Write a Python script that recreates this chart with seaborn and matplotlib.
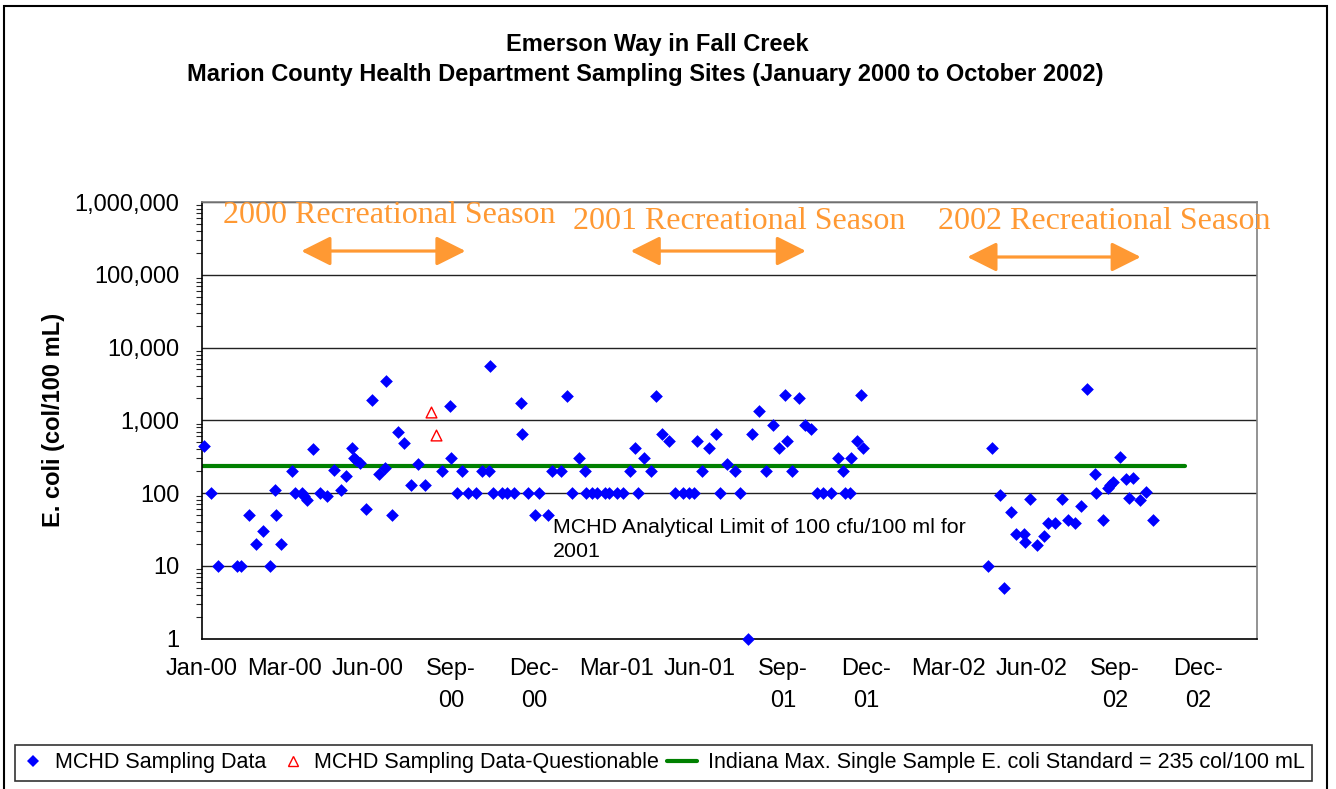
import numpy as np
import pandas as pd
import matplotlib
matplotlib.use("Agg")
import matplotlib.pyplot as plt
from matplotlib.lines import Line2D
from matplotlib.patches import Rectangle
from matplotlib.legend_handler import HandlerLine2D
import seaborn as sns

# ---------------- data (days after 1 Jan 2000, E. coli col/100 mL) ----------------
sample_day = [3, 10, 18, 38, 43, 51, 59, 66, 74, 79,
              81, 86, 98, 101, 109, 111, 114, 121, 128, 136,
              143, 151, 156, 163, 165, 167, 172, 178, 185, 192,
              199, 200, 206, 213, 219, 227, 234, 242, 261, 269,
              270, 277, 282, 289, 297, 304, 311, 312, 316, 325,
              331, 339, 346, 347, 354, 361, 366,
              375, 380, 389, 396, 401, 409, 415, 417, 423, 428,
              437, 441, 450, 457, 464, 470, 473, 479, 487, 493,
              499, 507, 513, 522, 528, 534, 537, 542, 550, 557,
              562, 569, 578, 584, 592, 597, 604, 612, 619, 626,
              632, 634, 640, 647, 654, 660, 667, 674, 682, 690,
              695, 697, 703, 704, 710, 715, 717,
              852, 857, 865, 870, 877, 883, 891, 892, 898, 905,
              913, 917, 925, 933, 939, 947, 953, 960, 968, 970,
              977, 982, 985, 988, 996, 1002, 1005, 1010, 1017, 1024,
              1031]
sample_value = [440, 100, 10, 10, 10, 50, 20, 30, 10, 110,
                50, 20, 200, 100, 100, 90, 80, 400, 100, 90,
                210, 110, 170, 420, 300, 280, 260, 60, 1900, 180,
                220, 3500, 50, 700, 490, 130, 250, 130, 200, 1550,
                300, 100, 200, 100, 100, 200, 200, 5500, 100, 100,
                100, 100, 1750, 640, 100, 50, 100,
                50, 200, 200, 2150, 100, 300, 200, 100, 100, 100,
                100, 100, 100, 100, 200, 420, 100, 300, 200, 2150,
                640, 520, 100, 100, 100, 100, 520, 200, 420, 640,
                100, 250, 200, 100, 1, 640, 1330, 200, 870, 420,
                2250, 520, 200, 2000, 870, 750, 100, 100, 100, 300,
                200, 100, 100, 300, 520, 2200, 420,
                10, 420, 95, 5, 54, 27, 27, 21, 82, 19,
                26, 39, 39, 82, 43, 39, 66, 2700, 180, 100,
                43, 118, 130, 141, 310, 154, 86, 162, 80, 102,
                43]

questionable_day = [249, 254]
questionable_value = [1300, 630]

standard_value = 235
standard_span_day = [0, 1066]

tick_day = [0, 90, 180, 270, 360, 450, 540, 630, 720, 810, 900, 990, 1080]
tick_label = ["Jan-00", "Mar-00", "Jun-00", "Sep-\n00", "Dec-\n00", "Mar-01",
              "Jun-01", "Sep-\n01", "Dec-\n01", "Mar-02", "Jun-02", "Sep-\n02", "Dec-\n02"]
y_ticks = [1, 10, 100, 1000, 10000, 100000, 1000000]
y_tick_label = ["1", "10", "100", "1,000", "10,000", "100,000", "1,000,000"]

season_label = ["2000 Recreational Season", "2001 Recreational Season", "2002 Recreational Season"]
season_start = [108, 465, 830]
season_end = [286, 655, 1018]

# ---------------- styling ----------------
sns.set_theme(style="white")
plt.rcParams["font.family"] = ["Liberation Sans", "DejaVu Sans"]
plt.rcParams["text.color"] = "black"
plt.rcParams["axes.labelcolor"] = "black"

W, H = 1336, 789
fig = plt.figure(figsize=(W / 100, H / 100), dpi=100)
fig.patch.set_facecolor("white")

left_px, right_px, top_px, bottom_px = 201.7, 1257, 202, 638.5
ax = fig.add_axes([left_px / W, 1 - bottom_px / H,
                   (right_px - left_px) / W, (bottom_px - top_px) / H])
ax.set_facecolor("white")

df = pd.DataFrame({"day": sample_day, "value": sample_value})
dq = pd.DataFrame({"day": questionable_day, "value": questionable_value})

sns.lineplot(x=standard_span_day, y=[standard_value] * 2, color="#008000",
             linewidth=3, ax=ax, zorder=2)
sns.scatterplot(data=df, x="day", y="value", marker="D", color="#0000FF", s=42,
                linewidth=0, ax=ax, zorder=4, clip_on=False, legend=False)
sns.scatterplot(data=dq, x="day", y="value", marker="^", color="red",
                facecolor="white", edgecolor="red", s=60, linewidth=1.0,
                ax=ax, zorder=4, clip_on=False, legend=False)

ax.set_yscale("log")
ax.set_ylim(1, 1e6)
ax.set_xlim(0, 1144)
ax.set_yticks(y_ticks)
ax.set_yticklabels(y_tick_label)
ax.set_xticks(tick_day)
ax.set_xticklabels(tick_label, linespacing=1.6)
ax.tick_params(axis="both", labelsize=17, colors="black", direction="out")
ax.tick_params(axis="x", length=5, width=1, pad=9)
ax.tick_params(axis="y", which="major", length=6, width=1, pad=10)
ax.tick_params(axis="y", which="minor", length=4, width=0.8, left=True)
ax.tick_params(axis="x", which="minor", bottom=False)
ax.set_xlabel("")
ax.set_ylabel("E. coli (col/100 mL)", fontsize=17, fontweight="bold", labelpad=7)

for yv in y_ticks[1:]:
    ax.axhline(yv, color="#222222", linewidth=1.0, zorder=1)

for side in ["left", "bottom"]:
    ax.spines[side].set_color("black")
    ax.spines[side].set_linewidth(1.2)
for side in ["top", "right"]:
    ax.spines[side].set_color("#808080")
    ax.spines[side].set_linewidth(1.2)
    ax.spines[side].set_visible(True)

orange = "#FF9933"
text_y = [0.952, 0.938, 0.938]
text_x = [23, 403, 798]
arrow_y = [0.8877, 0.8877, 0.874]
for lbl, tx, ty, s0, s1, ay in zip(season_label, text_x, text_y, season_start, season_end, arrow_y):
    ax.text(tx, ty, lbl, transform=ax.get_xaxis_transform(), color=orange,
            fontsize=23, family=["Liberation Serif", "DejaVu Serif"],
            ha="left", va="baseline", zorder=5)
    ax.annotate("", xy=(s1, ay), xytext=(s0, ay),
                xycoords=ax.get_xaxis_transform(), textcoords=ax.get_xaxis_transform(),
                arrowprops=dict(arrowstyle="<|-|>,head_length=1.0,head_width=0.5",
                                color=orange, lw=2.3, mutation_scale=18,
                                shrinkA=0, shrinkB=0))

ax.text(381, 0.276, "MCHD Analytical Limit of 100 cfu/100 ml for\n2001",
        transform=ax.get_xaxis_transform(), fontsize=15.4, ha="left", va="top",
        linespacing=1.3, color="black", zorder=5)

fig.text(657 / W, 1 - 44 / H, "Emerson Way in Fall Creek", fontsize=17,
         fontweight="bold", ha="center", va="center", color="black")
fig.text(645.5 / W, 1 - 75 / H,
         "Marion County Health Department Sampling Sites (January 2000 to October 2002)",
         fontsize=17, fontweight="bold", ha="center", va="center", color="black")


class LongLineHandler(HandlerLine2D):
    def create_artists(self, legend, orig_handle, xdescent, ydescent, width,
                       height, fontsize, trans):
        artists = super().create_artists(legend, orig_handle, xdescent, ydescent,
                                         width, height, fontsize, trans)
        yd = np.asarray(artists[0].get_ydata())
        artists[0].set_data([-0.4 * width, width], [yd[0], yd[0]])
        return artists


handles = [
    Line2D([], [], marker="D", color="#0000FF", linestyle="none", markersize=6.5, markeredgewidth=0),
    Line2D([], [], marker="^", markerfacecolor="white", markeredgecolor="red",
           linestyle="none", markersize=7.5, markeredgewidth=1),
    Line2D([], [], color="#008000", linewidth=3),
]
labels = ["MCHD Sampling Data", "MCHD Sampling Data-Questionable",
          "Indiana Max. Single Sample E. coli Standard = 235 col/100 mL"]
leg = fig.legend(handles, labels, loc="lower left",
                 bbox_to_anchor=(15 / W, 1 - 781 / H, (1312 - 15) / W, (781 - 742) / H),
                 mode="expand", ncol=3, fontsize=15.5, frameon=True, fancybox=False,
                 edgecolor="black", borderaxespad=0, handlelength=1.0,
                 handletextpad=0.5, borderpad=0.35, columnspacing=0.5,
                 handler_map={handles[2]: LongLineHandler()})
leg.get_frame().set_linewidth(1.2)

fig.patches.append(Rectangle((4 / W, -0.02), (1327 - 4) / W, 1 - 6 / H + 0.02,
                             transform=fig.transFigure, fill=False,
                             edgecolor="black", linewidth=1.5))

fig.savefig("out.png", dpi=100, facecolor="white")
